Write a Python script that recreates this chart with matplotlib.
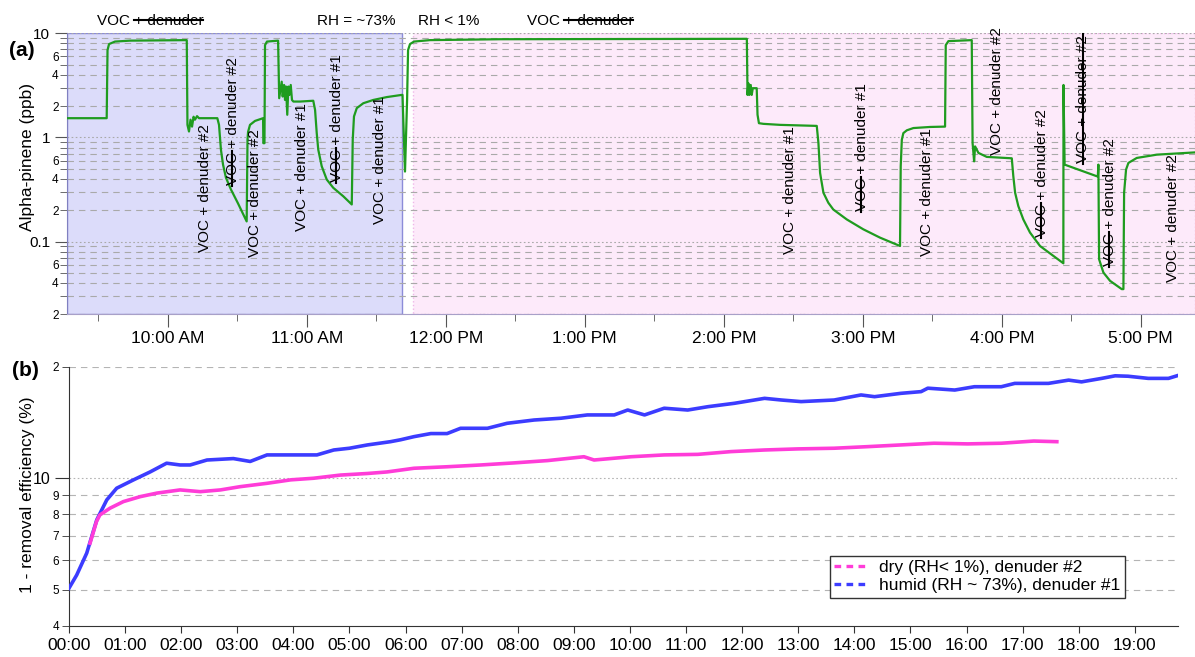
import matplotlib
matplotlib.use('Agg')
import matplotlib.pyplot as plt
import matplotlib.transforms as mtransforms
from matplotlib.ticker import FixedLocator, FixedFormatter
from matplotlib.lines import Line2D
import numpy as np

plt.rcParams['font.family'] = ['Liberation Sans', 'DejaVu Sans']

# ---------------- Panel (a) data: alpha-pinene (ppb) vs time of day (h) -------------
a_time_h = [9.2755, 9.561, 9.567, 9.578, 9.621, 9.729, 10.137, 10.142, 10.153, 10.164,
            10.175, 10.186, 10.196, 10.211, 10.225, 10.357, 10.369, 10.383, 10.398, 10.419,
            10.455, 10.506, 10.568, 10.574, 10.578, 10.592, 10.628, 10.686, 10.688, 10.696,
            10.700, 10.714, 10.794, 10.802, 10.820, 10.827, 10.837, 10.844, 10.851, 10.860,
            10.868, 10.875, 10.885, 10.894, 10.904, 10.952, 11.047, 11.060, 11.072, 11.083,
            11.108, 11.144, 11.191, 11.263, 11.324, 11.331, 11.340, 11.360, 11.407, 11.479,
            11.576, 11.683, 11.689, 11.707, 11.722, 11.729, 11.743, 11.772, 11.887, 12.391,
            13.110, 14.160, 14.166, 14.171, 14.177, 14.184, 14.194, 14.201, 14.209, 14.237,
            14.243, 14.253, 14.285, 14.405, 14.669, 14.681, 14.693, 14.717, 14.752, 14.788,
            14.885, 15.004, 15.124, 15.268, 15.273, 15.281, 15.292, 15.317, 15.364, 15.484,
            15.592, 15.597, 15.616, 15.784, 15.790, 15.801, 15.808, 15.832, 15.892, 16.072,
            16.083, 16.096, 16.119, 16.155, 16.203, 16.275, 16.371, 16.443, 16.444, 16.452,
            16.683, 16.691, 16.695, 16.700, 16.731, 16.779, 16.863, 16.875, 16.880, 16.894,
            16.911, 16.971, 17.115, 17.391]
a_ppb = [1.53, 1.53, 6.9, 7.88, 8.33, 8.5, 8.6, 1.32, 1.14, 1.48,
         1.27, 1.58, 1.48, 1.60, 1.53, 1.53, 1.32, 0.76, 0.548, 0.41,
         0.316, 0.232, 0.156, 0.95, 1.13, 1.32, 1.44, 1.53, 0.88, 0.88,
         7.7, 8.33, 8.5, 2.38, 3.43, 2.47, 3.19, 2.29, 3.08, 1.65,
         3.08, 2.56, 3.19, 2.29, 2.21, 2.21, 2.25, 1.84, 1.10, 0.763,
         0.528, 0.394, 0.328, 0.272, 0.227, 0.95, 1.59, 1.91, 2.13, 2.29,
         2.44, 2.56, 2.56, 0.47, 2.29, 6.9, 7.88, 8.33, 8.6, 8.77,
         8.8, 8.85, 8.85, 2.56, 3.31, 2.56, 3.19, 2.56, 2.97, 2.97,
         1.65, 1.37, 1.35, 1.32, 1.29, 0.884, 0.456, 0.294, 0.236, 0.203,
         0.163, 0.131, 0.109, 0.0906, 0.528, 0.95, 1.10, 1.17, 1.23, 1.26,
         1.27, 7.7, 8.41, 8.6, 0.884, 0.589, 0.82, 0.71, 0.65, 0.63,
         0.424, 0.294, 0.219, 0.163, 0.122, 0.0906, 0.0727, 0.0618, 3.19, 0.548,
         0.424, 0.424, 0.548, 0.0676, 0.0504, 0.0419, 0.0349, 0.0349, 0.294, 0.491,
         0.569, 0.635, 0.683, 0.718]

a_xlim = (9.2755, 17.39)
humid_span = (9.2755, 11.683)
dry_span = (11.767, 17.39)
a_tick_hours = [10, 11, 12, 13, 14, 15, 16, 17]
a_tick_labels = ['10:00 AM', '11:00 AM', '12:00 PM', '1:00 PM', '2:00 PM',
                 '3:00 PM', '4:00 PM', '5:00 PM']
a_minor_hours = [9.5, 10.5, 11.5, 12.5, 13.5, 14.5, 15.5, 16.5]

# top annotations (x in hours)
top_h = [9.873, 11.358, 12.024, 12.966]
top_text = ['VOC + denuder', 'RH = ~73%', 'RH < 1%', 'VOC + denuder']
top_strike = ['+ denuder', None, None, '+ denuder']

# rotated annotations: x (hours), bottom (ppb)
ann_h = [10.268, 10.470, 10.628, 10.966, 11.218, 11.527, 14.477, 14.993, 15.460,
         15.964, 16.288, 16.587, 16.779, 17.234]
ann_ppb = [0.0788, 0.3527, 0.0706, 0.1252, 0.3767, 0.1461, 0.0754, 0.1945, 0.0722,
           0.683, 0.1097, 0.5727, 0.0579, 0.0407]
ann_den = ['#2', '#2', '#2', '#1', '#1', '#1', '#1', '#1', '#1', '#2', '#2', '#2', '#2', '#2']
ann_strike = [None, 'VOC', None, None, 'VOC', None, None, 'VOC', None, None, 'VOC', 'all', 'VOC', None]

# ---------------- Panel (b) data: 1 - removal efficiency (%) vs elapsed hours --------
b_humid_h = [0.0, 0.137, 0.316, 0.495, 0.673, 0.85, 1.15, 1.446, 1.74, 1.98, 2.16, 2.46,
             2.93, 3.23, 3.53, 4.12, 4.42, 4.72, 5.0, 5.32, 5.73, 5.91, 6.15, 6.45, 6.74,
             6.98, 7.46, 7.81, 8.29, 8.77, 9.24, 9.72, 9.96, 10.26, 10.61, 11.03, 11.39,
             11.86, 12.4, 12.7, 13.05, 13.64, 14.12, 14.36, 14.83, 15.19, 15.31, 15.79,
             16.14, 16.62, 16.86, 17.46, 17.82, 18.05, 18.41, 18.65, 18.88, 19.24, 19.6, 19.8]
b_humid_pct = [5.05, 5.48, 6.28, 7.72, 8.74, 9.4, 9.9, 10.4, 10.98, 10.86, 10.86, 11.2,
               11.3, 11.1, 11.56, 11.56, 11.56, 11.92, 12.05, 12.3, 12.55, 12.7, 12.95, 13.2, 13.2,
               13.64, 13.64, 14.07, 14.36, 14.52, 14.82, 14.82, 15.28, 14.82, 15.45, 15.28, 15.6,
               15.93, 16.43, 16.26, 16.1, 16.26, 16.78, 16.6, 16.95, 17.13, 17.5, 17.3,
               17.66, 17.66, 18.03, 18.03, 18.4, 18.2, 18.6, 18.9, 18.85, 18.6, 18.6, 19.0]
b_dry_h = [0.375, 0.49, 0.55, 0.73, 0.97, 1.27, 1.57, 1.98, 2.34, 2.7, 3.05, 3.53, 3.95,
           4.36, 4.84, 5.32, 5.67, 6.15, 6.74, 7.34, 7.93, 8.53, 9.18, 9.36, 10.02, 10.61,
           11.21, 11.8, 12.4, 12.99, 13.64, 14.24, 14.83, 15.42, 16.02, 16.62, 17.2, 17.61]
b_dry_pct = [6.68, 7.64, 7.96, 8.3, 8.65, 8.92, 9.12, 9.3, 9.2, 9.3, 9.49, 9.69, 9.9,
             10.0, 10.2, 10.3, 10.4, 10.64, 10.74, 10.86, 11.0, 11.16, 11.43, 11.2, 11.43, 11.56,
             11.6, 11.8, 11.92, 12.0, 12.05, 12.17, 12.3, 12.43, 12.38, 12.43, 12.6, 12.55]
b_tick_hours = list(range(0, 20))
b_tick_labels = ['%02d:00' % h for h in b_tick_hours]
legend_labels = ['dry (RH< 1%), denuder #2', 'humid (RH ~ 73%), denuder #1']

# ---------------- figure -------------------------------------------------------------
W, H = 1195, 657
fig = plt.figure(figsize=(W / 100, H / 100), dpi=100)
axa = fig.add_axes([67 / W, 1 - 314.3 / H, (1195 - 67) / W, (314.3 - 33.3) / H])
axb = fig.add_axes([69 / W, 1 - 625.7 / H, (1178 - 69) / W, (625.7 - 366.7) / H])

GREEN = '#1f9c1f'
PINK = '#ff3cd8'
BLUE = '#3c3cff'
GRID = '#a9a9a9'
dash = (0, (5.8, 4.5))
dot = (0, (1.5, 2.2))

# ---- panel (a)
axa.set_yscale('log')
axa.set_ylim(0.02, 10)
axa.set_xlim(*a_xlim)
axa.axvspan(*humid_span, facecolor='#dcdcfa', edgecolor='#8c8cd8', lw=1.0, zorder=0.5)
axa.axvspan(*dry_span, facecolor='#fdeafa', edgecolor='#efb6e8', lw=1.0, ls=':', zorder=0.5)

decades = [0.1, 1, 10]
minors = [m * d for d in [0.01, 0.1, 1] for m in range(2, 10) if 0.02 <= m * d < 10]
for v in minors:
    axa.axhline(v, color=GRID, lw=0.8, ls=dash, zorder=1)
for v in decades:
    axa.axhline(v, color=GRID, lw=0.8, ls=dot, zorder=1)

axa.plot(a_time_h, a_ppb, color=GREEN, lw=1.6, zorder=3)

for s in ['top', 'right']:
    axa.spines[s].set_visible(False)
axa.spines['left'].set_color('#8080c0')
axa.spines['bottom'].set_color('#a8a0c8')


def mantissa(v):
    return int(round(v / 10 ** np.floor(np.log10(v) + 1e-9)))


axa.yaxis.set_major_locator(FixedLocator(decades))
axa.yaxis.set_major_formatter(FixedFormatter(['0.1', '1', '10']))
axa.yaxis.set_minor_locator(FixedLocator(minors))
axa.yaxis.set_minor_formatter(FixedFormatter(
    [str(mantissa(v)) if mantissa(v) in (2, 4, 6) else '' for v in minors]))
axa.tick_params(axis='y', which='major', length=9, labelsize=11, pad=3, color='#555555')
axa.tick_params(axis='y', which='minor', length=5, labelsize=8.5, pad=1, color='#555555')

axa.xaxis.set_major_locator(FixedLocator(a_tick_hours))
axa.xaxis.set_major_formatter(FixedFormatter(a_tick_labels))
axa.xaxis.set_minor_locator(FixedLocator(a_minor_hours))
axa.tick_params(axis='x', which='major', length=9, labelsize=12.5, pad=3, color='#555555')
axa.tick_params(axis='x', which='minor', length=5, color='#555555')

axa.set_ylabel('Alpha-pinene (ppb)', fontsize=12.5)
axa.yaxis.set_label_coords(-0.0284, 0.56)

blend = mtransforms.blended_transform_factory(axa.transData, axa.transAxes)
top_objs = []
for h, s in zip(top_h, top_text):
    top_objs.append(axa.text(h, 1.045, s, transform=blend, ha='center', va='center',
                             fontsize=11, clip_on=False))

ann_objs = []
for h, v, d in zip(ann_h, ann_ppb, ann_den):
    ann_objs.append(axa.text(h, v, 'VOC + denuder ' + d, rotation=90, ha='center',
                             va='bottom', fontsize=11, zorder=4))

fig.text(22 / W, 1 - 50 / H, '(a)', fontsize=15, fontweight='bold', ha='center', va='center')

# ---- panel (b)
axb.set_yscale('log')
axb.set_ylim(4, 20)
axb.set_xlim(0, 19.77)
for v in [5, 6, 7, 8, 9, 20]:
    axb.axhline(v, color='#b4b4b4', lw=0.8, ls=dash, zorder=1)
axb.axhline(10, color='#b4b4b4', lw=0.8, ls=dot, zorder=1)

axb.plot(b_humid_h, b_humid_pct, color=BLUE, lw=2.6, zorder=3)
axb.plot(b_dry_h, b_dry_pct, color=PINK, lw=2.6, zorder=3)

for s in ['top', 'right']:
    axb.spines[s].set_visible(False)
axb.spines['left'].set_color('#333333')
axb.spines['bottom'].set_color('#333333')

axb.yaxis.set_major_locator(FixedLocator([10]))
axb.yaxis.set_major_formatter(FixedFormatter(['10']))
axb.yaxis.set_minor_locator(FixedLocator([4, 5, 6, 7, 8, 9, 20]))
axb.yaxis.set_minor_formatter(FixedFormatter(['4', '5', '6', '7', '8', '9', '2']))
axb.tick_params(axis='y', which='major', length=10, labelsize=11.5, pad=3, color='#333333')
axb.tick_params(axis='y', which='minor', length=5, labelsize=8.5, pad=2, color='#333333')
axb.xaxis.set_major_locator(FixedLocator(b_tick_hours))
axb.xaxis.set_major_formatter(FixedFormatter(b_tick_labels))
axb.xaxis.set_minor_locator(FixedLocator([]))
axb.tick_params(axis='x', which='major', length=5, labelsize=12.5, pad=4, color='#333333')

axb.set_ylabel('1 - removal efficiency (%)', fontsize=12.5)
axb.yaxis.set_label_coords(-0.0307, 0.505)

handles = [Line2D([], [], color=PINK, lw=2.4, ls=(0, (2, 1.6))),
           Line2D([], [], color=BLUE, lw=2.4, ls=(0, (2, 1.6)))]
leg = axb.legend(handles, legend_labels, loc='upper left',
                 bbox_to_anchor=(830 / W, 1 - 556 / H), bbox_transform=fig.transFigure,
                 fancybox=False, framealpha=1, edgecolor='#333333', fontsize=12.5,
                 handlelength=1.9, handletextpad=0.7, borderpad=0.25, labelspacing=0.15,
                 borderaxespad=0)
leg.get_frame().set_linewidth(1.0)

fig.text(25 / W, 1 - 370 / H, '(b)', fontsize=15, fontweight='bold', ha='center', va='center')

# ---- strike-through lines
fig.canvas.draw()
renderer = fig.canvas.get_renderer()


def add_strike(t, prefix, struck, frac):
    fp = t.get_fontproperties()
    bb = t.get_window_extent(renderer)
    w_pre = renderer.get_text_width_height_descent(prefix, fp, ismath=False)[0] if prefix else 0
    w_all = renderer.get_text_width_height_descent(prefix + struck, fp, ismath=False)[0]
    d = renderer.get_text_width_height_descent('lp', fp, ismath=False)[2]
    em = fp.get_size_in_points() * fig.dpi / 72
    if t.get_rotation() == 0:
        y = bb.y0 + d + frac * em
        pts = np.array([(bb.x0 + w_pre, y), (bb.x0 + w_all, y)])
    else:
        x = bb.x1 - d - frac * em
        pts = np.array([(x, bb.y0 + w_pre - 1), (x, bb.y0 + w_all + 1)])
    pf = fig.transFigure.inverted().transform(pts)
    fig.add_artist(Line2D(pf[:, 0], pf[:, 1], color='black', lw=1.5,
                          transform=fig.transFigure))


for t, st in zip(top_objs, top_strike):
    if st:
        add_strike(t, 'VOC ', st, 0.28)
for t, st in zip(ann_objs, ann_strike):
    if st == 'VOC':
        add_strike(t, '', 'VOC', 0.34)
    elif st == 'all':
        add_strike(t, '', t.get_text(), 0.30)

fig.savefig('out.png', dpi=100)
